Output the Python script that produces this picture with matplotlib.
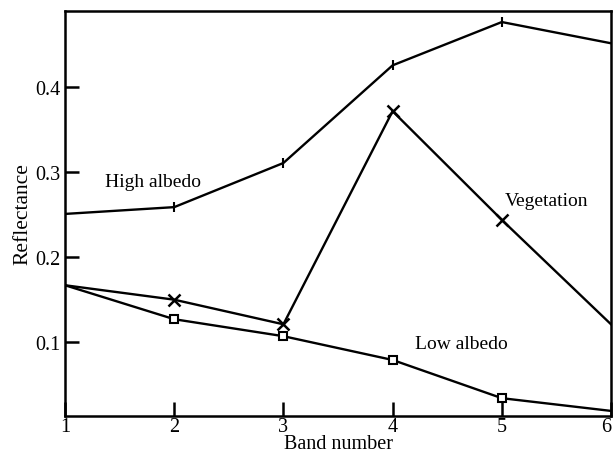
import matplotlib
matplotlib.use("Agg")
import matplotlib.pyplot as plt

plt.rcParams['font.family'] = ['Liberation Serif', 'DejaVu Serif']

bands = [1, 2, 3, 4, 5, 6]
high_albedo = [0.251, 0.259, 0.311, 0.426, 0.477, 0.452]
vegetation = [0.167, 0.150, 0.121, 0.372, 0.244, 0.121]
low_albedo = [0.167, 0.127, 0.107, 0.079, 0.034, 0.019]

fig = plt.figure(figsize=(6.14, 4.56), dpi=100)
ax = fig.add_axes([65 / 614, 1 - 417 / 456, 546 / 614, 405 / 456])

inner = [1, 2, 3, 4]
ax.plot(bands, high_albedo, color='black', lw=1.7, marker='|', ms=7, mew=1.5, markevery=inner)
ax.plot(bands, vegetation, color='black', lw=1.7, marker='x', ms=8, mew=1.8, markevery=inner)
ax.plot(bands, low_albedo, color='black', lw=1.7, marker='s', ms=6, mew=1.5,
        mfc='white', markevery=inner)

ax.text(1.81, 0.289, 'High albedo', fontsize=14, ha='center', va='center')
ax.text(5.41, 0.267, 'Vegetation', fontsize=14, ha='center', va='center')
ax.text(4.63, 0.098, 'Low albedo', fontsize=14, ha='center', va='center')

ax.set_xlim(1, 6)
ax.set_ylim(0.013, 0.49)
ax.set_xticks(bands)
ax.set_yticks([0.1, 0.2, 0.3, 0.4])
ax.set_yticklabels(['0.1', '0.2', '0.3', '0.4'])
ax.tick_params(direction='in', length=10, width=1.8, labelsize=14.5, pad=3)
ax.tick_params(axis='x', pad=1)
ax.tick_params(top=False, right=False)
ax.get_xticklabels()[-1].set_ha('right')
for s in ax.spines.values():
    s.set_linewidth(1.8)

ax.set_xlabel('Band number', fontsize=14.5, labelpad=-1.5)
ax.set_ylabel('Reflectance', fontsize=15.5, labelpad=2)

fig.savefig('out.png', dpi=100)
